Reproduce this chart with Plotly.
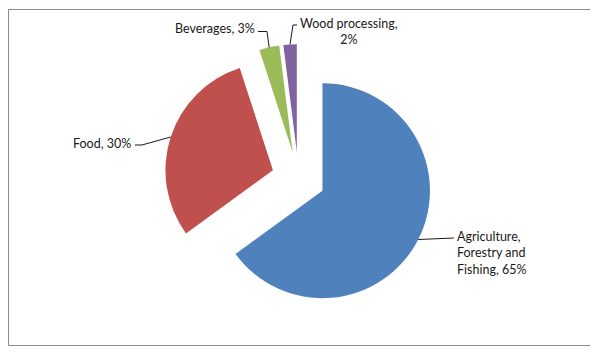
import math
import plotly.graph_objects as go

# ---- data ----
labels = ["Agriculture, Forestry and Fishing", "Food", "Beverages", "Wood processing"]
values = [65, 30, 3, 2]
colors = ["#4F81BD", "#C0504D", "#9BBB59", "#8064A2"]
label_texts = ["Agriculture,<br>Forestry and<br>Fishing, 65%", "Food, 30%", "Beverages, 3%", "Wood processing,<br>2%"]

# page has an 8px body margin: figure placed at (8, 8)
OFF = 8
W, H = 598 - OFF, 357 - OFF
PULL = 0.25
# pie box (page pixels): centre and size
CX, CY = 298.5, 178.5
R = 107.5
BOX = R * (2 + 2 * PULL)

def px(x):
    return (x - OFF) / W

def py(y):
    return 1 - (y - OFF) / H

fig = go.Figure(go.Pie(
    labels=labels, values=values, sort=False, direction="clockwise", rotation=0,
    marker=dict(colors=colors, line=dict(width=0)),
    pull=[PULL] * len(values), textinfo="none", hoverinfo="label+percent",
    domain=dict(x=[px(CX - BOX / 2), px(CX + BOX / 2)],
                y=[py(CY + BOX / 2), py(CY - BOX / 2)]),
    showlegend=False,
))

# anchor points on the outer arc at each slice's mid-angle
total = sum(values)
anchors = []
cum = 0
for v in values:
    mid = (cum + v / 2) / total * 2 * math.pi
    cum += v
    ox = CX + PULL * R * math.sin(mid)
    oy = CY - PULL * R * math.cos(mid)
    anchors.append((ox + R * math.sin(mid), oy - R * math.cos(mid)))

font = dict(family="Lato, Carlito, Calibri, sans-serif", size=12.5, color="#1a1a1a")

# label placements (page pixels): x, y, xanchor, yanchor, align
placements = [
    (455, 253, "left", "middle", "left"),
    (133, 143, "right", "middle", "left"),
    (257, 29, "right", "middle", "left"),
    (349, 32, "center", "middle", "center"),
]
for txt, (x, y, xa, ya, al) in zip(label_texts, placements):
    fig.add_annotation(x=px(x), y=py(y), xref="paper", yref="paper", text=txt,
                       showarrow=False, xanchor=xa, yanchor=ya, align=al, font=font)

# leader lines: label-side elbow points then slice anchor
leader_starts = [
    [(454, 238)],
    [(135, 145), (142, 145)],
    [(258, 31.5), (267, 31.5)],
    [(297, 25), (293, 25)],
]
for pts, anc in zip(leader_starts, anchors):
    allpts = pts + [anc]
    path = "M " + " L ".join(f"{px(a):.5f},{py(b):.5f}" for a, b in allpts)
    fig.add_shape(type="path", path=path, xref="paper", yref="paper",
                  line=dict(color="#1a1a1a", width=1))

# chart border
fig.add_shape(type="rect", xref="paper", yref="paper",
              x0=px(8.5), x1=px(590.5), y0=py(345.5), y1=py(9.5),
              line=dict(color="#8c8c8c", width=1), fillcolor="rgba(0,0,0,0)")

fig.update_layout(width=W, height=H, margin=dict(l=0, r=0, t=0, b=0),
                  paper_bgcolor="white", plot_bgcolor="white")
fig.write_html("out.html")
